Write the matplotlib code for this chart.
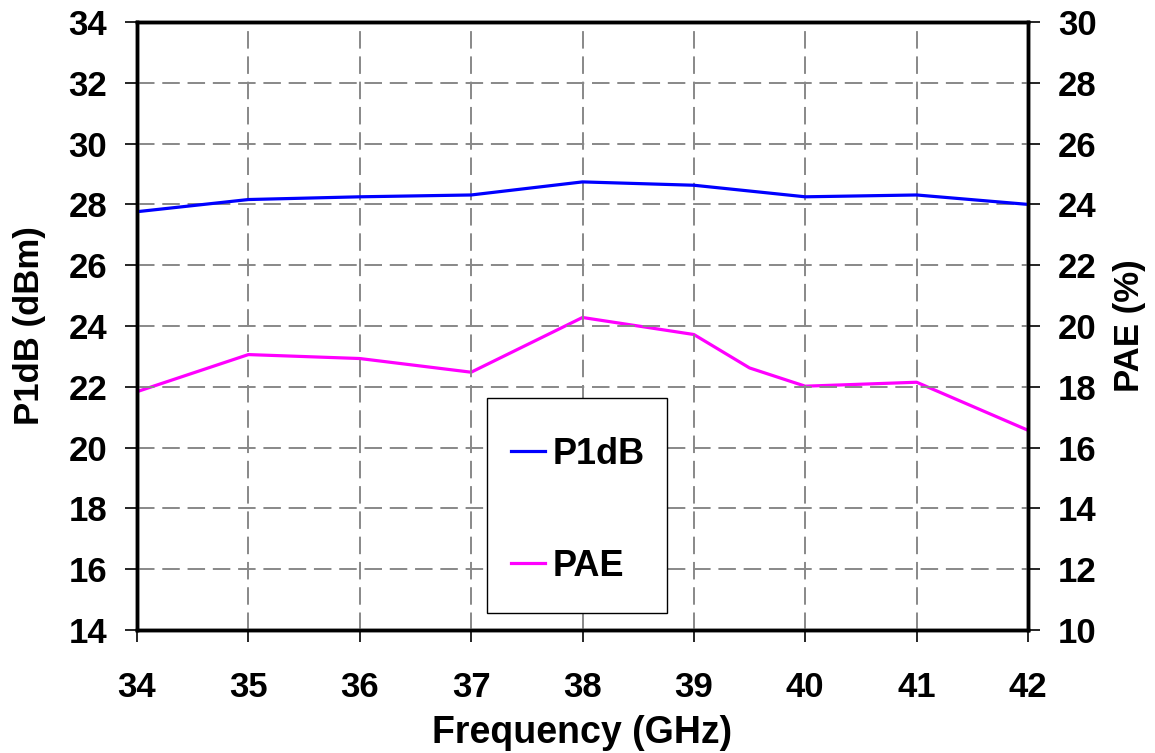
import matplotlib
matplotlib.use("Agg")
import matplotlib.pyplot as plt
from matplotlib.patches import Rectangle

plt.rcParams['font.family'] = ['Liberation Sans', 'DejaVu Sans']
plt.rcParams['font.weight'] = 'bold'

# data
freq_p1db = [34, 35, 36, 37, 38, 39, 40, 41, 42]
p1db = [27.76, 28.16, 28.25, 28.31, 28.74, 28.63, 28.25, 28.31, 28.0]

freq_pae = [34, 35, 36, 37, 38, 39, 39.5, 40, 41, 42]
pae = [17.84, 19.06, 18.93, 18.48, 20.28, 19.72, 18.62, 18.02, 18.15, 16.57]

x_ticks = list(range(34, 43))
left_ticks = list(range(14, 35, 2))
right_ticks = list(range(10, 31, 2))

W, H = 1155, 753
fig = plt.figure(figsize=(W / 100, H / 100), dpi=100)
ax = fig.add_axes([137 / W, 1 - 630 / H, (1028 - 137) / W, (630 - 22) / H])
ax2 = ax.twinx()

l1, = ax.plot(freq_p1db, p1db, color='#0000ff', lw=2.3, label='P1dB')
l2, = ax2.plot(freq_pae, pae, color='#ff00ff', lw=2.3, label='PAE')

ax.set_xlim(34, 42)
ax.set_ylim(14, 34)
ax2.set_ylim(10, 30)
ax.set_xticks(x_ticks)
ax.set_yticks(left_ticks)
ax2.set_yticks(right_ticks)

ax.grid(True, color='#888888', linestyle=(0, (9, 4)), lw=1.4)
ax.set_axisbelow(True)

for a in (ax, ax2):
    for s in a.spines.values():
        s.set_linewidth(2.5)
    a.tick_params(labelsize=25, width=1.2, length=8.5, direction='out', pad=13)
ax.tick_params(axis='x', pad=21)

ax.set_xlabel('Frequency (GHz)', fontsize=27, fontweight='bold', labelpad=8)
ax.set_ylabel('P1dB (dBm)', fontsize=25, fontweight='bold', labelpad=16)
ax2.set_ylabel('PAE (%)', fontsize=25, fontweight='bold', labelpad=12)

# legend: hand-placed frame, entries inside it
fig.patches.append(Rectangle((487 / W, 1 - 613 / H), 180 / W, 215 / H,
                             transform=fig.transFigure, facecolor='white',
                             edgecolor='black', lw=1.0, zorder=5))
leg = fig.legend([l1, l2], ['P1dB', 'PAE'], loc='upper left',
                 bbox_to_anchor=(511 / W, 1 - 437 / H),
                 fontsize=26, frameon=False,
                 labelspacing=2.12, handlelength=0.95, handletextpad=0.2,
                 borderpad=0, borderaxespad=0)
leg.set_zorder(6)
ax.set_zorder(ax2.get_zorder() + 1)
ax.patch.set_visible(False)

fig.savefig('out.png', dpi=100)
